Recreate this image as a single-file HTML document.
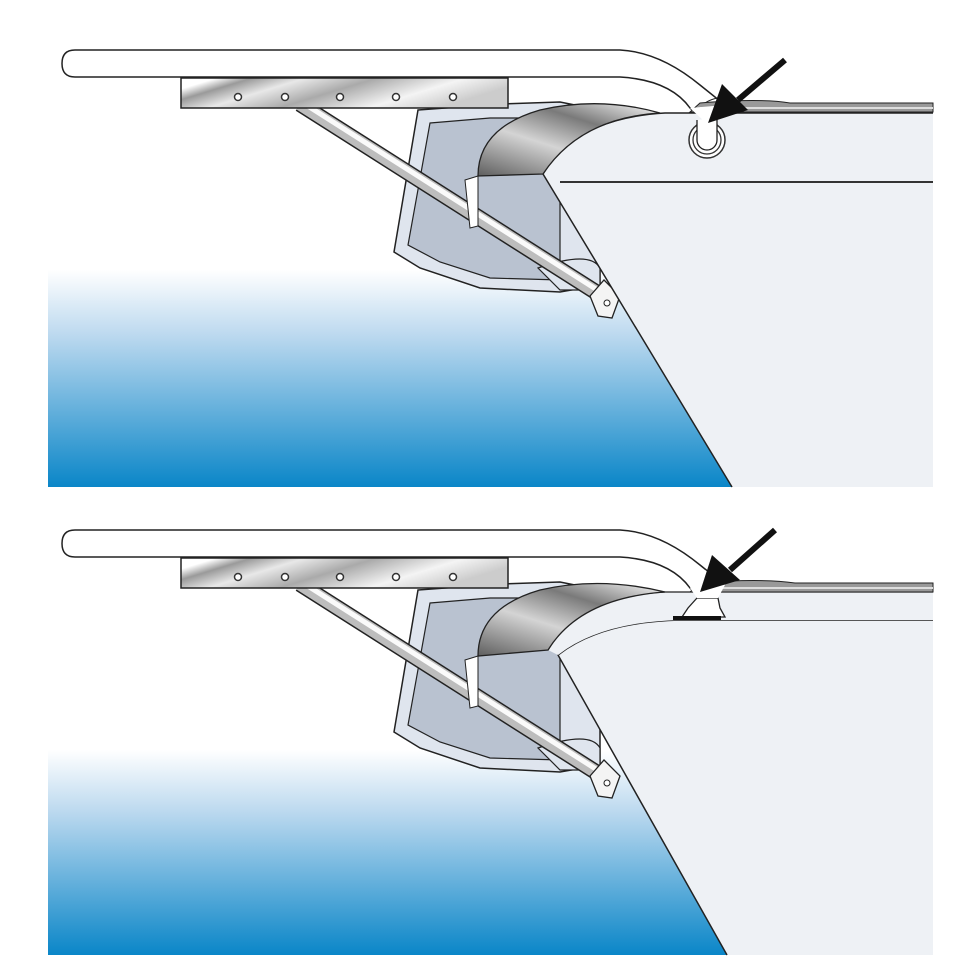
<!DOCTYPE html>
<html><head><meta charset="utf-8"><style>html,body{margin:0;padding:0;background:#fff}svg{display:block}</style></head><body>
<svg width="967" height="967" viewBox="0 0 967 967" xmlns="http://www.w3.org/2000/svg">
<defs>
<linearGradient id="water" x1="0" y1="0" x2="0" y2="1">
<stop offset="0" stop-color="#ffffff"/><stop offset="0.3" stop-color="#bcd9ef"/><stop offset="1" stop-color="#0a86c8"/></linearGradient>
<linearGradient id="metal" x1="0" y1="0" x2="1" y2="0.3">
<stop offset="0" stop-color="#fff"/><stop offset="0.1" stop-color="#fff"/><stop offset="0.2" stop-color="#9a9a9a"/><stop offset="0.35" stop-color="#e8e8e8"/><stop offset="0.55" stop-color="#aaa"/><stop offset="0.8" stop-color="#f4f4f4"/><stop offset="1" stop-color="#ccc"/></linearGradient>
<linearGradient id="sw" x1="0" y1="1" x2="0.8" y2="0">
<stop offset="0" stop-color="#5e5e5e"/><stop offset="0.45" stop-color="#d4d4d4"/><stop offset="0.75" stop-color="#7a7a7a"/><stop offset="1" stop-color="#d8d8d8"/></linearGradient>
<g id="common">
<path d="M418,110 L500,104 L560,102 L600,110 L600,285 L560,292 L480,288 L420,268 L394,252 Z" fill="#dfe5ee" stroke="#222" stroke-width="1.5"/>
<path d="M430,123 L490,118 L560,118 L560,280 L490,278 L440,262 L408,245 Z" fill="#b9c2d0" stroke="#222" stroke-width="1.2"/>
<path d="M538,268 Q590,250 600,268 L600,290 L560,290 Z" fill="#dfe5ee" stroke="#222" stroke-width="1.2"/>
<!-- strut -->
<line x1="300" y1="104" x2="602" y2="296" stroke="#222" stroke-width="16"/>
<line x1="300" y1="104" x2="602" y2="296" stroke="#bdbdbd" stroke-width="13"/>
<line x1="300" y1="101" x2="602" y2="293" stroke="#fafafa" stroke-width="5"/>
<path d="M590,296 L604,280 L620,296 L612,318 L598,316 Z" fill="#f4f4f4" stroke="#222" stroke-width="1.3"/>
<circle cx="607" cy="303" r="3" fill="#fff" stroke="#222"/>
<rect x="181" y="78" width="327" height="30" fill="url(#metal)" stroke="#222" stroke-width="1.5"/>
<g fill="#fff" stroke="#333" stroke-width="1.5">
<circle cx="238" cy="97" r="3.5"/><circle cx="285" cy="97" r="3.5"/><circle cx="340" cy="97" r="3.5"/><circle cx="396" cy="97" r="3.5"/><circle cx="453" cy="97" r="3.5"/></g>
<path d="M75,50 L620,50 Q660,52 700,85 L725,105 L705,122 L690,108 Q670,80 620,77 L75,77 Q62,77 62,63.5 Q62,50 75,50 Z" fill="#fff" stroke="#222" stroke-width="1.5"/>
<path d="M695,112 Q705,100 718,98" fill="none" stroke="#222" stroke-width="1"/>
</g>
</defs>

<path d="M48,270 L625,270 L732,487 L48,487 Z" fill="url(#water)"/>
<use href="#common"/>
<path d="M543,174 Q575,118 665,113 L933,113 L933,487 L732,487 Z" fill="#eef1f5"/>
<path d="M732,487 L543,174 Q575,118 665,113 L933,113" fill="none" stroke="#222" stroke-width="1.5"/>
<line x1="560" y1="182" x2="933" y2="182" stroke="#333" stroke-width="2"/>
<path d="M700,103 Q760,98 790,103 L933,103 L933,112 L690,112 Z" fill="#999" stroke="#222" stroke-width="1"/>
<line x1="700" y1="108" x2="933" y2="108" stroke="#ddd" stroke-width="2"/>
<path d="M478,176 Q478,128 540,110 Q600,96 660,113 Q580,118 543,174 Z" fill="url(#sw)" stroke="#222" stroke-width="1.3"/>
<path d="M478,176 L465,180 L470,228 L478,226 Z" fill="#fff" stroke="#222" stroke-width="1"/>
<circle cx="707" cy="140" r="18" fill="#fff" stroke="#333" stroke-width="1.5"/>
<circle cx="707" cy="140" r="14" fill="#fff" stroke="#333" stroke-width="1.3"/>
<path d="M697,120 L697,140 A10,10 0 0 0 717,140 L717,118" fill="#fff" stroke="#222" stroke-width="1.3"/>
<path d="M690,108 L705,122 L725,105" fill="#fff" stroke="none"/>
<line x1="785" y1="60" x2="738" y2="100" stroke="#111" stroke-width="6"/>
<path d="M708,123 L722,84 L748,110 Z" fill="#111"/>

<path d="M48,750 L625,750 L727,955 L48,955 Z" fill="url(#water)"/>
<use href="#common" transform="translate(0,480)"/>
<path d="M558,655 Q600,622 680,620 L933,620 L933,955 L727,955 Z" fill="#eef1f5"/>
<path d="M727,955 L558,655 Q600,622 680,620 L933,620" fill="none" stroke="#222" stroke-width="1.5"/>
<path d="M548,650 Q580,596 665,592 L933,592 L933,620 L680,620 Q600,622 558,655 Z" fill="#eef1f5"/>
<path d="M548,650 Q580,596 665,592 L933,592" fill="none" stroke="#222" stroke-width="1.3"/>
<path d="M700,583 Q760,578 795,583 L933,583 L933,592 L690,592 Z" fill="#999" stroke="#222" stroke-width="1"/>
<line x1="700" y1="588" x2="933" y2="588" stroke="#ddd" stroke-width="2"/>
<path d="M478,656 Q478,608 540,590 Q600,576 665,592 Q580,598 548,650 Z" fill="url(#sw)" stroke="#222" stroke-width="1.3"/>
<path d="M478,656 L465,660 L470,708 L478,706 Z" fill="#fff" stroke="#222" stroke-width="1"/>
<path d="M697,598 L718,598 L720,608 L725,617 L682,617 L688,608 Z" fill="#fff" stroke="#222" stroke-width="1.3"/>
<rect x="673" y="616" width="48" height="4" fill="#111"/>
<path d="M690,588 L697,598 L718,598 L725,585 L705,570 Z" fill="#fff"/>
<line x1="775" y1="530" x2="730" y2="570" stroke="#111" stroke-width="6"/>
<path d="M700,592 L712,555 L740,580 Z" fill="#111"/>
</svg>
</body></html>
